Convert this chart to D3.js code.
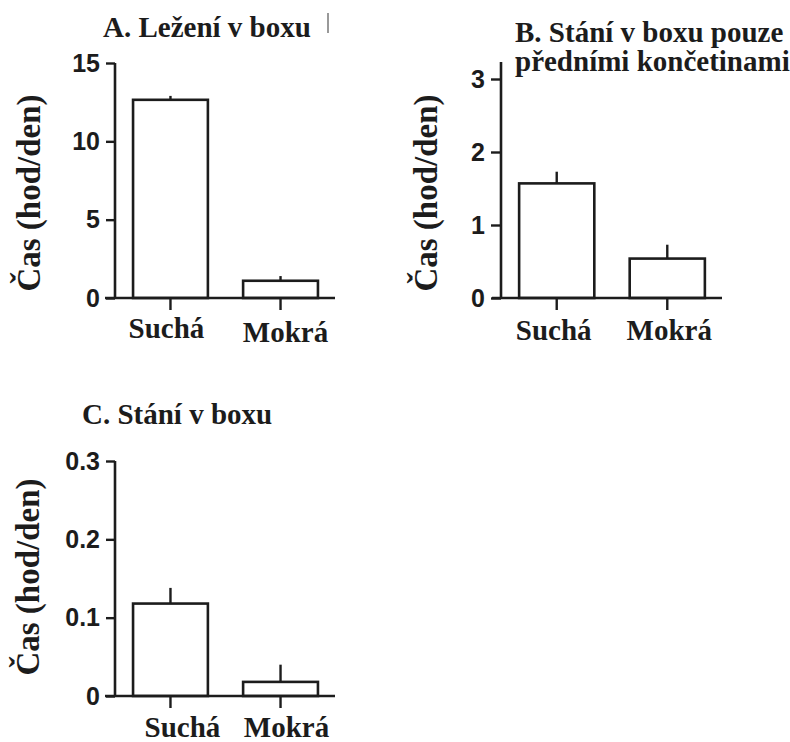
<!DOCTYPE html>
<html>
<head>
<meta charset="utf-8">
<script src="https://cdn.jsdelivr.net/npm/d3@7"></script>
<style>
  body { margin: 0; background: #fff; }
</style>
</head>
<body>
<svg id="chart" width="790" height="742"></svg>
<script>
// Categories of bedding (dry / wet) and mean time per day with its error
const categories = ["Suchá", "Mokrá"];

const lyingMeans = [12.65, 1.1];
const lyingErrors = [0.25, 0.3];

const forelegMeans = [1.57, 0.54];
const forelegErrors = [0.16, 0.19];

const standingMeans = [0.118, 0.018];
const standingErrors = [0.02, 0.022];

const lyingTicks = [0, 5, 10, 15];
const forelegTicks = [0, 1, 2, 3];
const standingTicks = [0, 0.1, 0.2, 0.3];

const lyingTitle = ["A. Ležení v boxu"];
const forelegTitle = ["B. Stání v boxu pouze", "předními končetinami"];
const standingTitle = ["C. Stání v boxu"];

const yTitle = "Čas (hod/den)";

// Layout of the three small panels
const panels = [
  {
    title: lyingTitle, means: lyingMeans, errors: lyingErrors, ticks: lyingTicks,
    axisX: 115, bandEnd: 336, y0: 298, yTop: 63, axisTop: 63,
    xAxisStart: 105, xAxisEnd: 335, tickSize: 9,
    titleX: 103, titleY: 37, titleStep: 29,
    yLabelX: 28, yLabelY: 193,
    catY: [338, 342], catDx: [-4, 5]
  },
  {
    title: forelegTitle, means: forelegMeans, errors: forelegErrors, ticks: forelegTicks,
    axisX: 501, bandEnd: 723, y0: 298, yTop: 79, axisTop: 62,
    xAxisStart: 492, xAxisEnd: 722, tickSize: 10,
    titleX: 515, titleY: 42, titleStep: 29,
    yLabelX: 425, yLabelY: 193,
    catY: [340, 340], catDx: [-3, 2]
  },
  {
    title: standingTitle, means: standingMeans, errors: standingErrors, ticks: standingTicks,
    axisX: 115, bandEnd: 336, y0: 696, yTop: 461, axisTop: 461,
    xAxisStart: 105, xAxisEnd: 335, tickSize: 9,
    titleX: 82, titleY: 424, titleStep: 29,
    yLabelX: 27, yLabelY: 577,
    catY: [737, 737], catDx: [12, 6]
  }
];

const ink = "#1c1c1c";

const svg = d3.select("#chart");

// Shared text styling helper
function serifText(sel, size) {
  return sel
    .attr("font-family", "Liberation Serif")
    .attr("font-weight", "bold")
    .attr("font-size", size)
    .attr("fill", ink);
}

panels.forEach(p => {
  const g = svg.append("g");

  const x = d3.scaleBand()
    .domain(categories)
    .range([p.axisX, p.bandEnd])
    .paddingInner(0.32)
    .paddingOuter(0.164);

  const y = d3.scaleLinear()
    .domain([0, d3.max(p.ticks)])
    .range([p.y0, p.yTop]);

  // Y axis: ticks and labels, the spine is drawn separately
  const yAxis = d3.axisLeft(y)
    .tickValues(p.ticks)
    .tickFormat(d => String(d))
    .tickSize(p.tickSize)
    .tickPadding(6)
    .tickSizeOuter(0);

  const ya = g.append("g")
    .attr("transform", `translate(${p.axisX},0)`)
    .call(yAxis);
  ya.attr("font-family", "Liberation Sans")
    .attr("font-size", 25)
    .attr("font-weight", "bold");
  ya.select(".domain").remove();
  ya.selectAll(".tick line").attr("stroke", ink).attr("stroke-width", 2.4);
  ya.selectAll(".tick text").attr("fill", ink);

  g.append("line")
    .attr("x1", p.axisX).attr("x2", p.axisX)
    .attr("y1", y(0)).attr("y2", p.axisTop)
    .attr("stroke", ink).attr("stroke-width", 2.6);

  // Bars
  g.selectAll("rect.bar")
    .data(categories)
    .join("rect")
    .attr("class", "bar")
    .attr("x", d => x(d))
    .attr("width", x.bandwidth())
    .attr("y", (d, i) => y(p.means[i]))
    .attr("height", (d, i) => y(0) - y(p.means[i]))
    .attr("fill", "#fff")
    .attr("stroke", ink)
    .attr("stroke-width", 2.6);

  // Error bars (upper half only)
  g.selectAll("line.err")
    .data(categories)
    .join("line")
    .attr("class", "err")
    .attr("x1", d => x(d) + x.bandwidth() / 2)
    .attr("x2", d => x(d) + x.bandwidth() / 2)
    .attr("y1", (d, i) => y(p.means[i]))
    .attr("y2", (d, i) => y(p.means[i] + p.errors[i]))
    .attr("stroke", ink)
    .attr("stroke-width", 2.4);

  // X axis line and downward category ticks
  g.append("line")
    .attr("x1", p.xAxisStart).attr("x2", p.xAxisEnd)
    .attr("y1", y(0)).attr("y2", y(0))
    .attr("stroke", ink).attr("stroke-width", 2.6);

  g.selectAll("line.xtick")
    .data(categories)
    .join("line")
    .attr("class", "xtick")
    .attr("x1", d => x(d) + x.bandwidth() / 2)
    .attr("x2", d => x(d) + x.bandwidth() / 2)
    .attr("y1", y(0))
    .attr("y2", y(0) + 12)
    .attr("stroke", ink)
    .attr("stroke-width", 2.4);

  // Category labels
  g.selectAll("text.cat")
    .data(categories)
    .join("text")
    .attr("class", "cat")
    .attr("x", (d, i) => x(d) + x.bandwidth() / 2 + p.catDx[i])
    .attr("y", (d, i) => p.catY[i])
    .attr("text-anchor", "middle")
    .call(serifText, 29)
    .text(d => d);

  // Panel title
  g.selectAll("text.title")
    .data(p.title)
    .join("text")
    .attr("class", "title")
    .attr("x", p.titleX)
    .attr("y", (d, i) => p.titleY + i * p.titleStep)
    .call(serifText, 29)
    .text(d => d);

  // Rotated y-axis title
  g.append("text")
    .attr("transform", `translate(${p.yLabelX},${p.yLabelY}) rotate(-90)`)
    .attr("text-anchor", "middle")
    .attr("dy", "0.35em")
    .call(serifText, 33)
    .text(yTitle);
});

// Small vertical stroke after the first title
svg.append("line")
  .attr("x1", 328).attr("x2", 328)
  .attr("y1", 13).attr("y2", 33)
  .attr("stroke", "#555").attr("stroke-width", 1.2);
</script>
</body>
</html>
